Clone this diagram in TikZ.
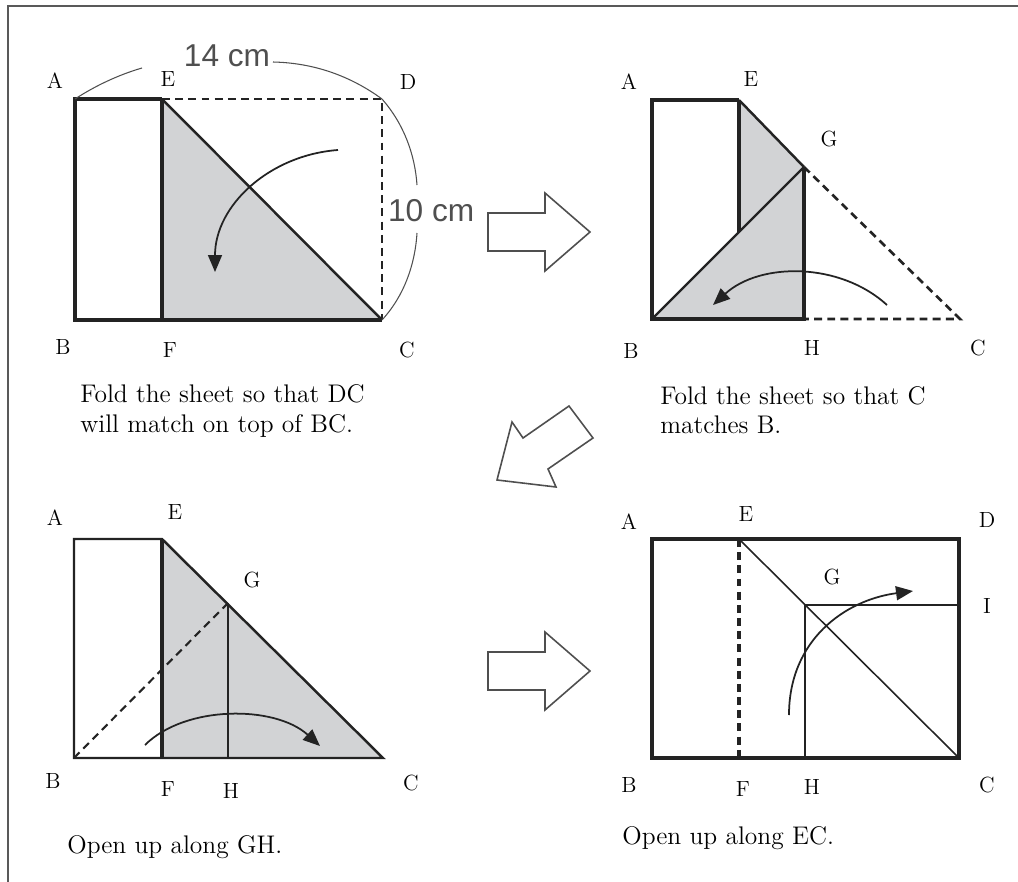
\documentclass[tikz,border=0pt]{standalone}
\usepackage{fontspec}
\newfontfamily\dimfont{Liberation Sans}
\usetikzlibrary{arrows.meta}
\definecolor{paper}{RGB}{210,211,213}
\definecolor{ink}{RGB}{35,35,35}
\tikzset{
sheet/.style={fill=paper,draw=none},
edge/.style={draw=ink,line width=2.1pt,line join=miter},
crease/.style={draw=ink,line width=1.4pt},
fine/.style={draw=ink,line width=0.9pt},
foldline/.style={draw=ink,line width=1.5pt,dash pattern=on 4.5pt off 3pt},
turn/.style={draw=ink,line width=1pt,-{Triangle[length=3.4mm,width=2.8mm]}},
dimarc/.style={draw=ink!80,line width=0.6pt},
dimtxt/.style={font=\dimfont\fontsize{18}{20}\selectfont,text=ink!80,inner sep=1pt},
lbl/.style={font=\fontsize{12.5}{14}\selectfont,inner sep=0pt},
explain/.style={font=\fontsize{14.5}{17}\selectfont,anchor=base west,inner sep=0pt},
bigarrow/.style={draw=ink!80,line width=0.9pt,fill=white,line join=miter},
frame/.style={draw=gray!70!black,line width=1.1pt}
}
\begin{document}
\begin{tikzpicture}[x=0.02cm,y=-0.02cm]
\useasboundingbox (0,0) rectangle (1018,882);
\draw[frame] (8,882) -- (8,6) -- (1018,6);

% step 1: fold DC onto BC
\coordinate (A1) at (75,99);  \coordinate (B1) at (75,320);
\coordinate (E1) at (162,99); \coordinate (F1) at (162,320);
\coordinate (D1) at (382,99); \coordinate (C1) at (382,320);
\fill[sheet] (E1) -- (F1) -- (C1) -- cycle;
\draw[foldline] (E1) -- (D1) -- (C1);
\draw[edge] (E1) -- (A1) -- (B1) -- (C1);
\draw[edge] (E1) -- (F1);
\draw[crease] (E1) -- (C1);
\draw[turn] (338,150) .. controls (270,155) and (215,205) .. (215,272);
\draw[dimarc] (A1) .. controls (95,86) and (118,75) .. (142,68);
\draw[dimarc] (273,62) .. controls (320,63) and (356,80) .. (D1);
\draw[dimarc] (D1) .. controls (404,124) and (415,155) .. (417,185);
\draw[dimarc] (417,233) .. controls (415,265) and (404,296) .. (C1);
\node[dimtxt] (w1) at (227,56) {14 cm};
\node[dimtxt,anchor=west] (h1) at (386,211) {10 cm};
\node[lbl] (lA1) at (55,81) {A};
\node[lbl] (lE1) at (168,79) {E};
\node[lbl] (lD1) at (408,82) {D};
\node[lbl] (lB1) at (63,347) {B};
\node[lbl] (lF1) at (170,350) {F};
\node[lbl] (lC1) at (407,350) {C};
\node[explain] (t1a) at (80,402) {Fold the sheet so that DC};
\node[explain] (t1b) at (80,432) {will match on top of BC.};

% step 2: fold C onto B
\coordinate (A2) at (652,100); \coordinate (B2) at (652,319);
\coordinate (E2) at (739,100); \coordinate (K2) at (739,232);
\coordinate (G2) at (804,167); \coordinate (H2) at (804,319);
\coordinate (C2) at (960,319);
\fill[sheet] (E2) -- (G2) -- (H2) -- (B2) -- (K2) -- cycle;
\draw[foldline] (G2) -- (C2) -- (H2);
\draw[edge] (E2) -- (A2) -- (B2) -- (H2) -- (G2);
\draw[edge] (E2) -- (K2);
\draw[crease] (E2) -- (G2);
\draw[crease] (B2) -- (G2);
\draw[turn] (887,305) .. controls (840,262) and (760,262) .. (713,305);
\node[lbl] (lA2) at (629,82) {A};
\node[lbl] (lE2) at (751,79) {E};
\node[lbl] (lG2) at (829,139) {G};
\node[lbl] (lB2) at (631,351) {B};
\node[lbl] (lH2) at (812,348) {H};
\node[lbl] (lC2) at (978,348) {C};
\node[explain] (t2a) at (660,404) {Fold the sheet so that C};
\node[explain] (t2b) at (660,433) {matches B.};

% step 3: open along GH
\coordinate (A3) at (74,539);  \coordinate (B3) at (74,758);
\coordinate (E3) at (162,539); \coordinate (F3) at (162,758);
\coordinate (G3) at (228,603); \coordinate (H3) at (228,758);
\coordinate (C3) at (383,758);
\fill[sheet] (E3) -- (F3) -- (C3) -- cycle;
\draw[foldline,line width=1.2pt] (B3) -- (G3);
\draw[crease] (E3) -- (A3) -- (B3) -- (C3) -- cycle;
\draw[edge] (E3) -- (F3);
\draw[fine] (G3) -- (H3);
\draw[turn] (145,745) .. controls (185,705) and (275,705) .. (320,746);
\node[lbl] (lA3) at (55,518) {A};
\node[lbl] (lE3) at (175,512) {E};
\node[lbl] (lG3) at (252,580) {G};
\node[lbl] (lB3) at (53,781) {B};
\node[lbl] (lF3) at (168,789) {F};
\node[lbl] (lH3) at (231,791) {H};
\node[lbl] (lC3) at (411,783) {C};
\node[explain] (t3) at (67,853) {Open up along GH.};

% step 4: open along EC
\coordinate (A4) at (652,539); \coordinate (B4) at (652,758);
\coordinate (E4) at (739,539); \coordinate (F4) at (739,758);
\coordinate (G4) at (805,605); \coordinate (H4) at (805,758);
\coordinate (I4) at (959,605);
\coordinate (D4) at (959,539); \coordinate (C4) at (959,758);
\draw[fine] (E4) -- (C4);
\draw[fine] (H4) -- (G4) -- (I4);
\draw[foldline,line width=1.8pt] (E4) -- (F4);
\draw[edge] (A4) rectangle (C4);
\draw[turn] (789,715) .. controls (789,640) and (845,600) .. (913,591);
\node[lbl] (lA4) at (629,522) {A};
\node[lbl] (lE4) at (746,514) {E};
\node[lbl] (lD4) at (987,520) {D};
\node[lbl] (lG4) at (832,577) {G};
\node[lbl] (lI4) at (987,606) {I};
\node[lbl] (lB4) at (629,785) {B};
\node[lbl] (lF4) at (743,789) {F};
\node[lbl] (lH4) at (812,787) {H};
\node[lbl] (lC4) at (987,785) {C};
\node[explain] (t4) at (622,844) {Open up along EC.};

% arrows between the steps
\foreach \dy in {0,439}
  \draw[bigarrow,yshift=-\dy*0.02cm] (488,213) -- (545,213) -- (545,193) -- (590,232)
    -- (545,271) -- (545,251) -- (488,251) -- cycle;
\draw[bigarrow] (569,406) -- (593,438) -- (548,469) -- (556,487) -- (497,480)
  -- (512,422) -- (523,438) -- cycle;
\end{tikzpicture}
\end{document}
